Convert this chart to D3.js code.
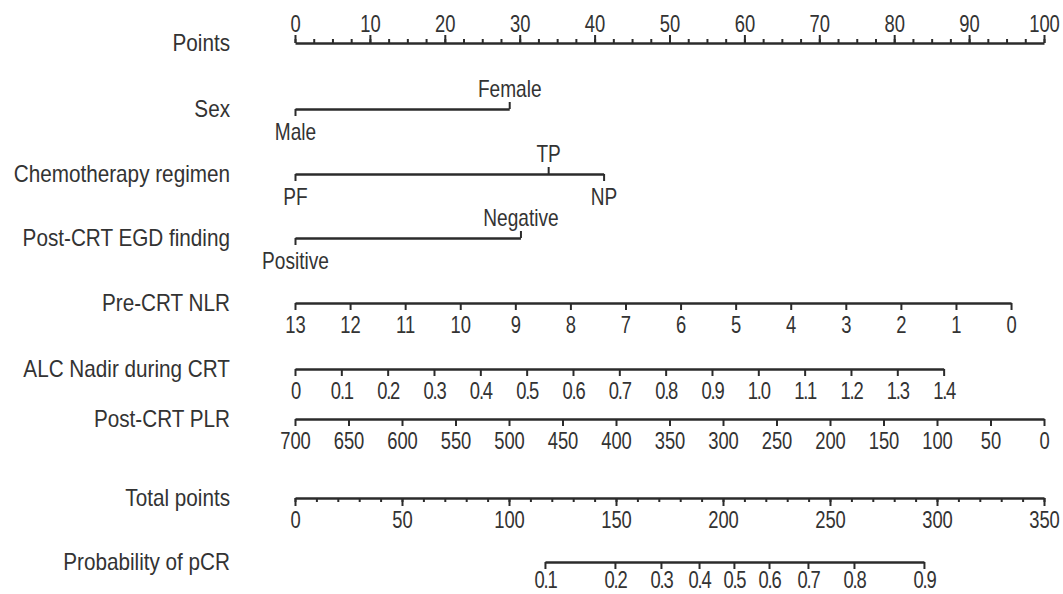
<!DOCTYPE html>
<html>
<head>
<meta charset="utf-8">
<script src="https://cdn.jsdelivr.net/npm/d3@7"></script>
<style>
  body { margin: 0; background: #fff; }
  svg { display: block; }
</style>
</head>
<body>
<svg id="chart"></svg>
<script>
// Nomogram values
const rowNames = [
  "Points",
  "Sex",
  "Chemotherapy regimen",
  "Post-CRT EGD finding",
  "Pre-CRT NLR",
  "ALC Nadir during CRT",
  "Post-CRT PLR",
  "Total points",
  "Probability of pCR",
];

const pointTicks = d3.range(0, 101, 10);
const pointMinor = d3.range(0, 100.1, 2.5);

const sexLevels = ["Male", "Female"];
const sexPoints = [0, 28.6];
const sexAbove = ["Female"];

const chemoLevels = ["PF", "TP", "NP"];
const chemoPoints = [0, 33.8, 41.2];
const chemoAbove = ["TP"];

const egdLevels = ["Positive", "Negative"];
const egdPoints = [0, 30.1];
const egdAbove = ["Negative"];

const nlrTicks = [13, 12, 11, 10, 9, 8, 7, 6, 5, 4, 3, 2, 1, 0];
const nlrEnds = [13, 0];
const nlrEndPoints = [0, 95.6];

const alcTicks = [0, 0.1, 0.2, 0.3, 0.4, 0.5, 0.6, 0.7, 0.8, 0.9, 1.0, 1.1, 1.2, 1.3, 1.4];
const alcEnds = [0, 1.4];
const alcEndPoints = [0, 86.6];

const plrTicks = [700, 650, 600, 550, 500, 450, 400, 350, 300, 250, 200, 150, 100, 50, 0];
const plrEnds = [700, 0];
const plrEndPoints = [0, 100];

const totalTicks = d3.range(0, 351, 50);
const totalMinor = d3.range(0, 351, 10);

const probTicks = [0.1, 0.2, 0.3, 0.4, 0.5, 0.6, 0.7, 0.8, 0.9];
const probTotals = [116.8, 149.5, 171.0, 188.8, 205.1, 221.5, 239.7, 261.2, 293.9];

// layout
const width = 1063, height = 594;
const rowY = [43, 109, 174, 238, 303, 369, 419, 498, 562];
const labelRight = 230;
const FONT = "Liberation Sans, Arial, sans-serif";
const FS = 23;
const INK = "#2b2b2b";
const TEXT = "#333";

const svg = d3.select("#chart").attr("width", width).attr("height", height);

const x = d3.scaleLinear().domain([0, 100]).range([295, 1044]);
const xTotal = d3.scaleLinear().domain([0, 350]).range([295, 1044]);

// Row titles (condensed look via horizontal squeeze)
svg.append("g")
  .selectAll("text")
  .data(rowNames)
  .enter()
  .append("text")
  .attr("transform", (d, i) => `translate(${labelRight},${rowY[i]}) scale(0.9,1)`)
  .attr("dy", "0.36em")
  .attr("text-anchor", "end")
  .attr("font-family", FONT)
  .attr("font-size", FS)
  .attr("fill", TEXT)
  .text((d) => d);

function styleAxis(g, sx, decimals) {
  g.attr("font-family", FONT).attr("font-size", FS).attr("color", INK);
  g.select(".domain").attr("stroke-width", 2.5);
  g.selectAll(".tick line").attr("stroke-width", 2);
  g.selectAll(".tick text")
    .attr("fill", TEXT)
    .attr("transform", `scale(${sx},1)`)
    .attr("letter-spacing", decimals ? "-1.5px" : null);
}

function noDomain(g) {
  g.select(".domain").remove();
}

// Points
svg.append("g")
  .attr("transform", `translate(0,${rowY[0]})`)
  .call(d3.axisTop(x).tickValues(pointMinor).tickSize(4).tickFormat("").tickSizeOuter(0))
  .call((g) => styleAxis(g, 1));
svg.append("g")
  .attr("transform", `translate(0,${rowY[0]})`)
  .call(d3.axisTop(x).tickValues(pointTicks).tickSize(8).tickPadding(3).tickFormat(d3.format("d")))
  .call(noDomain)
  .call((g) => styleAxis(g, 0.8));

// Categorical rows
function categorical(levels, pts, above, y) {
  const s = d3.scaleOrdinal().domain(levels).range(pts.map((p) => x(p)));
  const below = levels.filter((l) => !above.includes(l));
  svg.append("g")
    .attr("transform", `translate(0,${y})`)
    .call(d3.axisBottom(s).tickValues(below).tickSize(7).tickPadding(8).tickSizeOuter(0))
    .call((g) => styleAxis(g, 0.83));
  svg.append("g")
    .attr("transform", `translate(0,${y})`)
    .call(d3.axisTop(s).tickValues(above).tickSize(7).tickPadding(5).tickSizeOuter(0))
    .call(noDomain)
    .call((g) => styleAxis(g, 0.83));
}
categorical(sexLevels, sexPoints, sexAbove, rowY[1]);
categorical(chemoLevels, chemoPoints, chemoAbove, rowY[2]);
categorical(egdLevels, egdPoints, egdAbove, rowY[3]);

// Continuous rows
function continuous(ticks, ends, endPts, y, fmt, decimals) {
  const s = d3.scaleLinear().domain(ends).range(endPts.map((p) => x(p)));
  svg.append("g")
    .attr("transform", `translate(0,${y})`)
    .call(d3.axisBottom(s).tickValues(ticks).tickSize(7).tickPadding(7).tickSizeOuter(0).tickFormat(fmt))
    .call((g) => styleAxis(g, 0.8, decimals));
}
continuous(nlrTicks, nlrEnds, nlrEndPoints, rowY[4], d3.format("d"), false);
continuous(alcTicks, alcEnds, alcEndPoints, rowY[5], (d) => (d === 0 ? "0" : d3.format(".1f")(d)), true);
continuous(plrTicks, plrEnds, plrEndPoints, rowY[6], d3.format("d"), false);

// Total points
svg.append("g")
  .attr("transform", `translate(0,${rowY[7]})`)
  .call(d3.axisBottom(xTotal).tickValues(totalMinor).tickSize(4).tickFormat("").tickSizeOuter(0))
  .call((g) => styleAxis(g, 1));
svg.append("g")
  .attr("transform", `translate(0,${rowY[7]})`)
  .call(d3.axisBottom(xTotal).tickValues(totalTicks).tickSize(8).tickPadding(6).tickFormat(d3.format("d")))
  .call(noDomain)
  .call((g) => styleAxis(g, 0.8));

// Probability (piecewise mapping through total points)
const xProb = d3.scaleLinear().domain(probTicks).range(probTotals.map((t) => xTotal(t)));
svg.append("g")
  .attr("transform", `translate(0,${rowY[8]})`)
  .call(d3.axisBottom(xProb).tickValues(probTicks).tickSize(7).tickPadding(3).tickSizeOuter(0).tickFormat(d3.format(".1f")))
  .call((g) => styleAxis(g, 0.8, true));
</script>
</body>
</html>
